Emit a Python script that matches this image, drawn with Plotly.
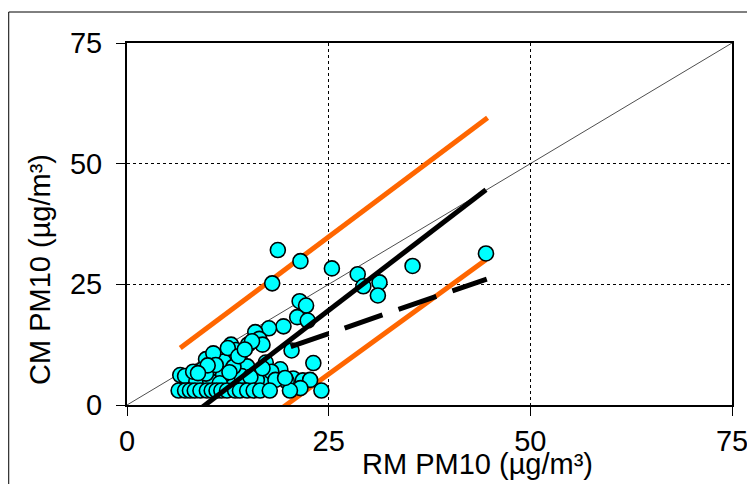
import plotly.graph_objects as go

# Scatter data: RM PM10 (x) vs CM PM10 (y)
rm_pm10 = [18.7, 21.5, 25.4, 18.0, 28.6, 35.4, 44.5, 29.3, 31.3, 31.1,
           21.4, 22.2, 21.1, 22.4, 19.4, 17.6, 15.9, 16.4, 16.8, 15.0,
           12.9, 13.5, 20.4, 23.1, 9.8, 12.0, 17.2, 14.0, 15.5, 10.7, 12.5,
           19.0, 9.3, 11.1, 14.9, 16.0, 6.6, 7.2, 12.0, 17.4, 20.6, 21.8,
           22.7, 19.8, 8.6, 13.4, 15.7, 21.5, 20.2, 24.1, 8.2, 14.9, 16.1,
           13.0, 11.9, 10.3, 11.5, 14.2, 9.8, 17.9, 18.4, 19.6,
           11.0, 13.2, 12.7, 15.3, 16.8, 10.0, 8.8, 13.8, 14.6,
           6.4, 7.2, 7.8, 8.4, 9.1, 9.9, 10.5, 11.1, 11.7, 12.4, 13.4, 14.0,
           14.9, 15.7, 16.5, 17.7]
cm_pm10 = [32.1, 29.8, 28.3, 25.2, 27.1, 28.8, 31.4, 24.6, 25.4, 22.7,
           21.5, 20.6, 18.2, 17.5, 16.3, 15.9, 15.1, 13.7, 12.5, 12.5,
           12.5, 11.4, 11.3, 8.7, 9.5, 9.0, 8.8, 9.4, 13.2, 10.7, 11.8,
           7.4, 7.3, 7.3, 7.3, 6.4, 6.2, 6.0, 6.2, 5.5, 5.5, 5.1,
           5.2, 4.9, 4.9, 4.9, 4.9, 3.5, 3.0, 3.0, 6.9, 8.0, 5.2,
           5.2, 6.2, 5.0, 4.5, 6.0, 6.5, 6.9, 5.2, 5.6,
           8.3, 7.9, 6.8, 5.8, 7.6, 8.2, 6.6, 10.1, 11.5,
           3.0, 3.0, 3.0, 3.0, 3.0, 3.0, 3.0, 3.0, 3.0, 3.0, 3.0, 3.0,
           3.0, 3.0, 3.0, 3.0]

# Reference / fitted lines (end points)
one_to_one_x = [0, 75]
one_to_one_y = [0, 75]
fit_x = [9.3, 44.5]
fit_y = [-0.5, 44.6]
upper_x = [6.6, 44.7]
upper_y = [11.8, 59.5]
lower_x = [19.4, 44.5]
lower_y = [-0.4, 30.1]
dash_x = [20.3, 44.6]
dash_y = [12.1, 26.1]

tick_vals = [0, 25, 50, 75]
tick_text = ["0", "25", "50", "75"]

FONT = "Liberation Sans, Arial, sans-serif"

fig = go.Figure()
fig.add_trace(go.Scatter(x=one_to_one_x, y=one_to_one_y, mode="lines",
                         line=dict(color="black", width=0.7), hoverinfo="skip"))
fig.add_trace(go.Scatter(x=upper_x, y=upper_y, mode="lines",
                         line=dict(color="#FF6600", width=5)))
fig.add_trace(go.Scatter(x=lower_x, y=lower_y, mode="lines",
                         line=dict(color="#FF6600", width=5)))
fig.add_trace(go.Scatter(x=rm_pm10, y=cm_pm10, mode="markers",
                         marker=dict(size=15, color="#00FFFF",
                                     line=dict(color="black", width=1.6))))
fig.add_trace(go.Scatter(x=fit_x, y=fit_y, mode="lines",
                         line=dict(color="black", width=5)))
fig.add_trace(go.Scatter(x=dash_x, y=dash_y, mode="lines",
                         line=dict(color="black", width=5, dash="40px,17px")))

axis_common = dict(
    range=[0, 75], tickvals=tick_vals, ticktext=tick_text,
    showline=True, linecolor="black", linewidth=2, mirror=True,
    ticks="outside", ticklen=9, tickwidth=1, tickcolor="black",
    showgrid=True, gridcolor="black", gridwidth=0.8, griddash="dot",
    zeroline=False, automargin=False,
    tickfont=dict(family=FONT, size=29, color="black"),
)

# The page body adds an 8px offset, so the figure is sized to compensate.
fig.update_layout(
    width=747, height=476,
    margin=dict(l=119, r=23, t=35, b=79),
    paper_bgcolor="white", plot_bgcolor="white",
    showlegend=False,
    xaxis=dict(**axis_common, ticklabelstandoff=0),
    yaxis=dict(**axis_common, ticklabelstandoff=8),
    annotations=[
        dict(text="RM PM10 (µg/m³)", xref="paper", yref="paper",
             x=0.5797, y=-0.164, xanchor="center", yanchor="middle",
             showarrow=False, font=dict(family=FONT, size=29, color="black")),
        dict(text="CM PM10 (µg/m³)", xref="paper", yref="paper",
             x=-0.1438, y=0.373, xanchor="center", yanchor="middle",
             textangle=-90, showarrow=False,
             font=dict(family=FONT, size=29, color="black")),
    ],
    shapes=[
        dict(type="rect", xref="paper", yref="paper",
             x0=-0.1955, y0=-0.3, x1=1.1, y1=1.0856,
             line=dict(color="black", width=1), layer="below"),
    ],
)

fig.write_html("out.html")
